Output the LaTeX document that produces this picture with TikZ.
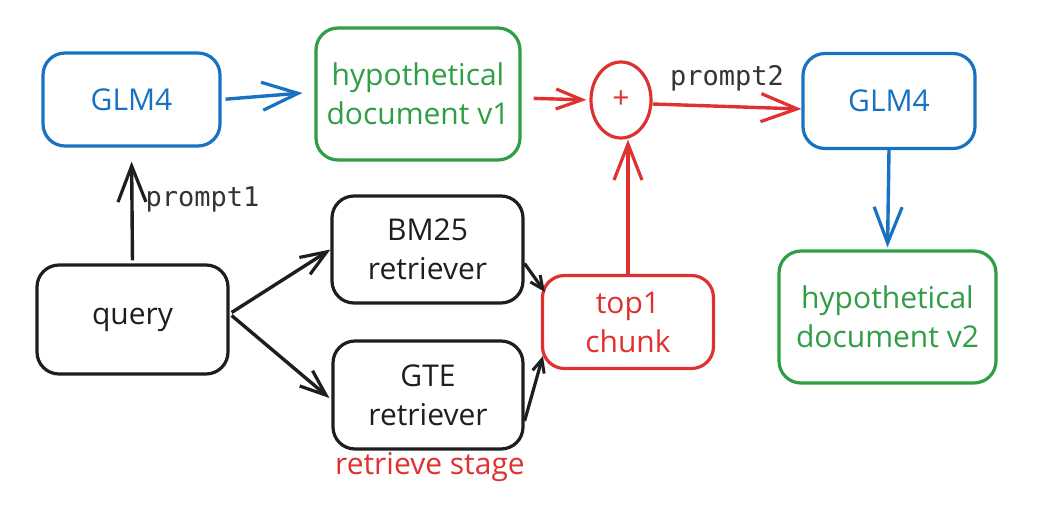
\documentclass[tikz,border=0pt]{standalone}
\usepackage{fontspec}
\setmainfont{Open Sans}
\newfontfamily\monof{DejaVu Sans Mono}
\usetikzlibrary{arrows.meta,shapes.geometric,calc}
\definecolor{exblue}{HTML}{1971C2}
\definecolor{exgreen}{HTML}{2F9E44}
\definecolor{exred}{HTML}{E03131}
\definecolor{exblack}{HTML}{1E1E1E}
\definecolor{lblgray}{HTML}{343434}
\tikzset{
  boxst/.style={draw, line width=3.2pt, rounded corners=22pt, inner sep=0pt, align=center, font=\fontsize{30}{39}\selectfont},
  arrst/.style={line width=3.4pt, -{Straight Barb[length=36pt,width=28pt,line width=3.2pt]}},
  midarr/.style={line width=3.4pt, -{Straight Barb[length=26pt,width=20pt,line width=3.2pt]}},
  smallarr/.style={line width=3.2pt, -{Straight Barb[length=13pt,width=12pt,line width=3pt]}},
  lblst/.style={font=\monof\fontsize{27}{30}\selectfont, text=lblgray},
}
\begin{document}
\begin{tikzpicture}[x=1pt,y=-1pt]
\useasboundingbox[fill=white] (0,0) rectangle (1053,525);
% nodes
\node[boxst, draw=exblue, text=exblue, minimum width=177pt, minimum height=93pt] (glmA) at (131.5,99.5) {GLM4};
\node[boxst, draw=exgreen, text=exgreen, minimum width=204pt, minimum height=132pt] (hypA) at (418,94) {hypothetical\\document v1};
\node[draw=exred, line width=3.2pt, ellipse, minimum width=60pt, minimum height=76pt, inner sep=0pt, text=exred, font=\fontsize{30}{32}\selectfont] (plus) at (621,100) {+};
\node[boxst, draw=exblue, text=exblue, minimum width=172pt, minimum height=95pt] (glmB) at (889,101) {GLM4};
\node[boxst, draw=exgreen, text=exgreen, minimum width=217pt, minimum height=132pt] (hypB) at (887.5,317) {hypothetical\\document v2};
\node[boxst, draw=exblack, text=exblack, minimum width=191pt, minimum height=109pt] (query) at (132.5,319.5) {query};
\node[boxst, draw=exblack, text=exblack, minimum width=191pt, minimum height=107pt] (bm) at (427.5,249.5) {BM25\\retriever};
\node[boxst, draw=exblack, text=exblack, minimum width=190pt, minimum height=108pt] (gte) at (428,395) {GTE\\retriever};
\node[boxst, draw=exred, text=exred, minimum width=171pt, minimum height=93pt] (top) at (628,322) {top1\\chunk};
\node[text=exred, font=\fontsize{30}{32}\selectfont, inner sep=0pt] (stage) at (430,467) {retrieve stage};
% connectors
\draw[arrst, exblue, shorten <=4pt, shorten >=12pt] (glmA.east) -- ($(hypA.west)+(0,-2)$);
\draw[midarr, exred, shorten <=12pt, shorten >=3pt] ($(hypA.east)+(0,4)$) -- (plus.west);
\draw[arrst, exred] ($(plus.east)+(0,4)$) -- node[lblst, above=14pt, pos=0.5, inner sep=0pt] (ptwo) {prompt2} ($(glmB.west)+(0,8)$);
\draw[arrst, exred] (top.north) -- (top.north |- plus.south);
\draw[arrst, exblue, shorten >=2pt] (glmB.south) -- (hypB.north);
\draw[arrst, exblack, shorten <=3pt, shorten >=14pt] (query.north) -- node[lblst, right=12pt, pos=0.55, inner sep=0pt] (pone) {prompt1} (glmA.south);
\draw[midarr, exblack] ($(query.east)+(2,-7)$) -- (bm.west);
\draw[midarr, exblack] ($(query.east)+(2,-4)$) -- ($(gte.west)+(-2,3)$);
\draw[smallarr, exblack] ($(bm.east)+(0,14)$) -- ($(top.west)+(4,-30)$);
\draw[smallarr, exblack] ($(gte.east)+(0,26)$) -- ($(top.west)+(2,34)$);
\end{tikzpicture}
\end{document}
